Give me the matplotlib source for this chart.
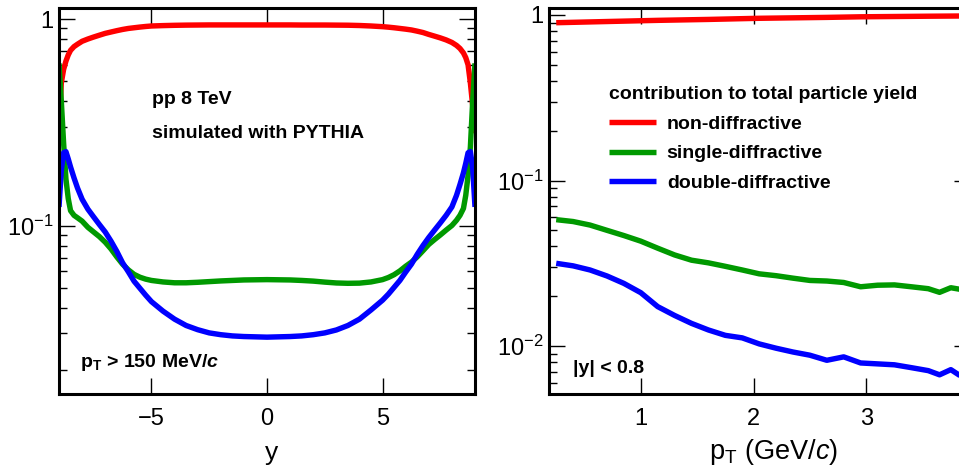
import numpy as np
import matplotlib
matplotlib.use("Agg")
import matplotlib.pyplot as plt
from matplotlib.ticker import LogLocator, NullFormatter, FixedLocator

plt.rcParams['font.family'] = 'Liberation Sans'
plt.rcParams['mathtext.fontset'] = 'custom'
plt.rcParams['mathtext.rm'] = 'Liberation Sans'
plt.rcParams['mathtext.it'] = 'Liberation Sans:italic'
plt.rcParams['mathtext.bf'] = 'Liberation Sans:bold'
plt.rcParams['mathtext.bfit'] = 'Liberation Sans:italic:bold'

# ---- rapidity dependence (pT > 150 MeV/c) ----
rap = [-9.0, -8.9, -8.8, -8.7, -8.6, -8.5, -8.35, -8.2, -8.0, -7.75, -7.5, -7.25,
       -7.0, -6.75, -6.5, -6.25, -6.0, -5.75, -5.5, -5.25, -5.0, -4.5, -4.0, -3.5,
       -3.0, -2.5, -2.0, -1.5, -1.0, -0.5, 0.0,
       0.5, 1.0, 1.5, 2.0, 2.5, 3.0, 3.5, 4.0, 4.5, 5.0, 5.25, 5.5, 5.75, 6.0,
       6.25, 6.5, 6.75, 7.0, 7.25, 7.5, 7.75, 8.0, 8.2, 8.35, 8.5, 8.6, 8.7, 8.8,
       8.9, 9.0]

nd_rap = [0.28, 0.49, 0.57, 0.625, 0.67, 0.705, 0.735, 0.755, 0.78, 0.80, 0.818, 0.835,
          0.852, 0.865, 0.878, 0.89, 0.90, 0.907, 0.914, 0.92, 0.925, 0.929, 0.932, 0.934,
          0.935, 0.936, 0.936, 0.936, 0.936, 0.936, 0.936,
          0.936, 0.936, 0.935, 0.935, 0.935, 0.934, 0.933, 0.930, 0.925, 0.918, 0.913, 0.907, 0.900, 0.893,
          0.885, 0.873, 0.860, 0.842, 0.826, 0.810, 0.792, 0.770, 0.745, 0.720, 0.685, 0.650, 0.600, 0.490,
          0.380, 0.280]

sd_rap = [0.61, 0.40, 0.25, 0.168, 0.135, 0.118, 0.112, 0.109, 0.105, 0.098, 0.093, 0.0883,
          0.083, 0.077, 0.0705, 0.065, 0.061, 0.058, 0.0562, 0.0550, 0.0542, 0.0533, 0.0528, 0.0528,
          0.0531, 0.0535, 0.0539, 0.0542, 0.0545, 0.0546, 0.0547,
          0.0546, 0.0545, 0.0542, 0.0538, 0.0532, 0.0527, 0.0525, 0.0526, 0.0533, 0.0547, 0.0560, 0.0578, 0.0603, 0.0635,
          0.0665, 0.0705, 0.0755, 0.081, 0.0855, 0.090, 0.095, 0.100, 0.106, 0.112, 0.121, 0.14, 0.175, 0.24,
          0.40, 0.61]

dd_rap = [0.123, 0.185, 0.225, 0.228, 0.210, 0.192, 0.170, 0.152, 0.134, 0.120, 0.110, 0.101,
          0.093, 0.084, 0.075, 0.066, 0.0597, 0.0537, 0.0497, 0.0460, 0.0428, 0.0385, 0.0352, 0.0328,
          0.0313, 0.0302, 0.0296, 0.0292, 0.0290, 0.0289, 0.0288,
          0.0289, 0.0290, 0.0292, 0.0296, 0.0302, 0.0312, 0.0328, 0.0352, 0.0390, 0.0435, 0.0465, 0.0502, 0.0542, 0.0595,
          0.065, 0.0725, 0.080, 0.0875, 0.095, 0.103, 0.112, 0.123, 0.140, 0.158, 0.180, 0.200, 0.225, 0.228,
          0.19, 0.123]

# ---- pT dependence (|y| < 0.8) ----
pt = [0.25, 0.4, 0.55, 0.7, 0.85, 1.0, 1.15, 1.3, 1.45, 1.6, 1.75, 1.9, 2.05,
      2.2, 2.35, 2.5, 2.65, 2.8, 2.95, 3.1, 3.25, 3.4, 3.55, 3.65, 3.75, 3.85]

nd_pt = [0.898, 0.903, 0.908, 0.913, 0.918, 0.923, 0.928, 0.932, 0.936, 0.940, 0.945, 0.950, 0.955,
         0.958, 0.961, 0.964, 0.967, 0.971, 0.975, 0.977, 0.979, 0.981, 0.983, 0.984, 0.985, 0.986]

sd_pt = [0.058, 0.0565, 0.0538, 0.050, 0.0465, 0.043, 0.039, 0.0355, 0.033, 0.0318, 0.0303, 0.0288, 0.0273,
         0.0266, 0.0257, 0.0249, 0.0247, 0.0242, 0.0228, 0.0233, 0.0234, 0.0228, 0.0222, 0.0211, 0.0225, 0.0219]

dd_pt = [0.0316, 0.0305, 0.0288, 0.0265, 0.0239, 0.021, 0.0173, 0.0153, 0.0137, 0.0125, 0.0116, 0.0112, 0.0103,
         0.0097, 0.0092, 0.0088, 0.0082, 0.0086, 0.0079, 0.0078, 0.0077, 0.0074, 0.0071, 0.0067, 0.0072, 0.0065]

labels = ['non-diffractive', 'single-diffractive', 'double-diffractive']
colors = ['#ff0000', '#009900', '#0000ff']

W, H = 959, 470
fig = plt.figure(figsize=(W / 100, H / 100), dpi=100)

ax1 = fig.add_axes([59 / W, 76 / H, 416 / W, 386 / H])
ax2 = fig.add_axes([549 / W, 76 / H, 421 / W, 386 / H])

lw = 3.9
for vals, c in zip([nd_rap, sd_rap, dd_rap], colors):
    ax1.plot(rap, vals, color=c, lw=lw, solid_joinstyle='round', solid_capstyle='butt')
lines = []
for vals, c, lab in zip([nd_pt, sd_pt, dd_pt], colors, labels):
    l, = ax2.plot(pt, vals, color=c, lw=lw, label=lab, solid_joinstyle='round', solid_capstyle='butt')
    lines.append(l)

for ax in (ax1, ax2):
    ax.set_yscale('log')
    for s in ax.spines.values():
        s.set_linewidth(2.2)
    ax.tick_params(which='both', direction='in', top=True, right=True, width=1.0, labelsize=17)
    ax.tick_params(which='major', length=11.5)
    ax.tick_params(which='minor', length=5.8)
    ax.tick_params(axis='x', pad=10)
    ax.tick_params(axis='y', pad=4)
    ax.yaxis.set_minor_locator(LogLocator(base=10, subs=np.arange(2, 10)))
    ax.yaxis.set_minor_formatter(NullFormatter())
    ax.xaxis.set_minor_locator(FixedLocator([]))

ax1.set_xlim(-9, 9)
ax1.set_ylim(0.01528, 1.1305)
ax1.set_xticks([-5, 0, 5], ['\u22125', '0', '5'])
ax1.set_yticks([0.1, 1], ['$10^{-1}$', '1'])
ax1.set_xlabel('y', fontsize=19)
ax1.xaxis.set_label_coords(0.512, -0.122)

ax2.set_xlim(0.186, 3.92)
ax2.set_ylim(0.00513, 1.102)
ax2.set_xticks([1, 2, 3], ['1', '2', '3'])
ax2.set_yticks([0.01, 0.1, 1], ['$10^{-2}$', '$10^{-1}$', '1'])
ax2.set_xlabel(r'p$_{\mathrm{T}}$ (GeV/$c$)', fontsize=19.5)
ax2.xaxis.set_label_coords(0.534, -0.112)

txt = dict(fontsize=14, fontweight='bold', va='baseline', ha='left')
ax1.text(0.2236, 0.7513, 'pp 8 TeV', transform=ax1.transAxes, **txt)
ax1.text(0.2236, 0.6632, 'simulated with PYTHIA', transform=ax1.transAxes, **txt)
ax1.text(0.0505, 0.070, r'p$_{\mathbf{T}}$ > 150 MeV/$\mathbfit{c}$', transform=ax1.transAxes, **txt)
ax2.text(0.0577, 0.0552, '|y| < 0.8', transform=ax2.transAxes, **txt)

leg = ax2.legend(handles=lines, title='contribution to total particle yield',
                 loc='upper left', bbox_to_anchor=(609 / W, 1 - 86 / H),
                 bbox_transform=fig.transFigure, frameon=False, borderpad=0,
                 borderaxespad=0, handlelength=2.42, handletextpad=0.55,
                 labelspacing=0.62, alignment='left',
                 prop=dict(weight='bold', size=14),
                 title_fontproperties=dict(weight='bold', size=14))

fig.savefig('out.png', dpi=100)
